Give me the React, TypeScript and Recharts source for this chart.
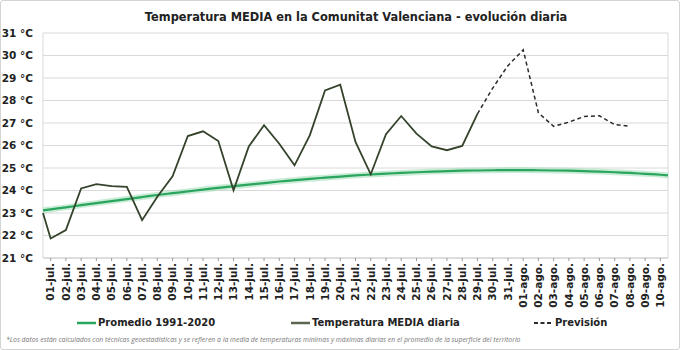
import { ComposedChart, Line, XAxis, YAxis, CartesianGrid } from 'recharts'

// labels of the 41 days shown on the x axis
const days = [
  '01-jul.', '02-jul.', '03-jul.', '04-jul.', '05-jul.', '06-jul.', '07-jul.', '08-jul.', '09-jul.', '10-jul.',
  '11-jul.', '12-jul.', '13-jul.', '14-jul.', '15-jul.', '16-jul.', '17-jul.', '18-jul.', '19-jul.', '20-jul.',
  '21-jul.', '22-jul.', '23-jul.', '24-jul.', '25-jul.', '26-jul.', '27-jul.', '28-jul.', '29-jul.', '30-jul.',
  '31-jul.', '01-ago.', '02-ago.', '03-ago.', '04-ago.', '05-ago.', '06-ago.', '07-ago.', '08-ago.', '09-ago.',
  '10-ago.',
]

// 1991-2020 mean, one value per day
const promedio = [
  23.16, 23.25, 23.35, 23.44, 23.53, 23.62, 23.71, 23.8, 23.88, 23.96,
  24.04, 24.12, 24.19, 24.26, 24.33, 24.4, 24.46, 24.52, 24.57, 24.62,
  24.67, 24.71, 24.75, 24.78, 24.81, 24.84, 24.86, 24.88, 24.89, 24.9,
  24.91, 24.91, 24.9, 24.89, 24.88, 24.86, 24.84, 24.81, 24.78, 24.74,
  24.7,
]
// values where the mean line meets the left and right edge of the plot
const promedioEdges = [23.12, 24.67]

// observed daily mean, 01-jul .. 29-jul
const observada = [
  21.87, 22.24, 24.09, 24.28, 24.19, 24.16, 22.68, 23.72, 24.63, 26.42,
  26.63, 26.2, 24.01, 25.96, 26.9, 26.08, 25.12, 26.45, 28.45, 28.7,
  26.16, 24.72, 26.5, 27.31, 26.53, 25.96, 25.79, 25.98, 27.41,
]
// the observed line enters the plot from 30-jun at this value
const observadaEdge = 23.0

// forecast, 29-jul .. 08-ago
const prevision = [27.41, 28.55, 29.55, 30.25, 27.45, 26.85, 27.04, 27.29, 27.32, 26.93, 26.86]
const previsionStart = 28

const yTicks = [21, 22, 23, 24, 25, 26, 27, 28, 29, 30, 31]

const C_PROM = '#2aa55e'
const C_HALO = '#a6e0bb'
const C_OBS = '#34432b'
const C_PREV = '#2b2b2b'
const FONT = 'DejaVu Sans, Verdana, sans-serif'

const rows: any[] = [{ x: 0, prom: promedioEdges[0], obs: observadaEdge }]
days.forEach((d, i) => {
  const row: any = { x: i + 0.5, label: d, prom: promedio[i] }
  if (i < observada.length) row.obs = observada[i]
  if (i >= previsionStart && i - previsionStart < prevision.length) row.prev = prevision[i - previsionStart]
  rows.push(row)
})
rows.push({ x: days.length, prom: promedioEdges[1] })

const labelTicks = days.map((_, i) => i + 0.5)
const gridTicks = [0, ...days.map((_, i) => i + 1)]

const DayTick = ({ x, y, payload }: any) => {
  const label = days[Math.floor(payload.value)]
  return (
    <text
      x={x}
      y={y}
      dy="0.36em"
      transform={`rotate(-90 ${x} ${y})`}
      textAnchor="end"
      fontFamily={FONT}
      fontWeight="bold"
      fontSize={10.5}
      fill="#222"
    >
      {label}
    </text>
  )
}

const LegendItem = ({ left, color, dashed, text }: any) => (
  <div style={{ position: 'absolute', left, top: 0, display: 'flex', alignItems: 'center' }}>
    <svg width={19} height={4} style={{ marginRight: 2 }}>
      <line x1={0} y1={2} x2={19} y2={2} stroke={color} strokeWidth={dashed ? 2 : 2.5} strokeDasharray={dashed ? '4 2.5' : undefined} />
    </svg>
    <span>{text}</span>
  </div>
)

export default function App() {
  return (
    <div
      style={{
        position: 'absolute',
        left: 0,
        top: 0,
        width: 680,
        height: 350,
        background: '#fff',
        fontFamily: FONT,
        boxSizing: 'border-box',
        border: '1px solid #d4d4d4',
        borderRadius: 3,
        overflow: 'hidden',
      }}
    >
      <div
        style={{
          position: 'absolute',
          left: 30,
          width: 650,
          top: 9,
          textAlign: 'center',
          fontWeight: 'bold',
          fontSize: 11.4,
          color: '#222',
        }}
      >
        Temperatura MEDIA en la Comunitat Valenciana - evolución diaria
      </div>

      <div style={{ position: 'absolute', left: -1, top: -1 }}>
        <ComposedChart width={680} height={350} data={rows} margin={{ top: 33, right: 12, left: 0, bottom: 44 }}>
          <XAxis
            dataKey="x"
            type="number"
            domain={[0, days.length]}
            ticks={labelTicks}
            interval={0}
            tick={<DayTick />}
            tickSize={3}
            tickMargin={2}
            tickLine={{ stroke: '#999' }}
            axisLine={{ stroke: '#cfcfcf' }}
            height={48}
            allowDecimals
          />
          <XAxis
            xAxisId="grid"
            dataKey="x"
            type="number"
            domain={[0, days.length]}
            ticks={gridTicks}
            interval={0}
            tick={false}
            tickLine={false}
            axisLine={false}
            height={0}
          />
          <YAxis
            type="number"
            domain={[21, 31]}
            ticks={yTicks}
            interval={0}
            width={43}
            tickLine={false}
            axisLine={false}
            tickMargin={4}
            tickFormatter={(v: number) => `${v} °C`}
            tick={{ fontFamily: FONT, fontWeight: 'bold', fontSize: 10.5, fill: '#222' }}
          />
          <CartesianGrid xAxisId="grid" stroke="#d9d9d9" strokeWidth={1} />
          <Line dataKey="prom" type="monotone" stroke={C_HALO} strokeWidth={6} strokeOpacity={0.6} dot={false} activeDot={false} isAnimationActive={false} legendType="none" />
          <Line dataKey="prom" type="monotone" stroke={C_PROM} strokeWidth={2.2} dot={false} activeDot={false} isAnimationActive={false} />
          <Line dataKey="obs" type="linear" stroke={C_OBS} strokeWidth={1.8} dot={false} activeDot={false} isAnimationActive={false} />
          <Line dataKey="prev" type="linear" stroke={C_PREV} strokeWidth={1.5} strokeDasharray="4 3" dot={false} activeDot={false} isAnimationActive={false} />
        </ComposedChart>
      </div>

      <div style={{ position: 'absolute', left: 0, top: 316, width: 680, height: 16, fontWeight: 'bold', fontSize: 10, color: '#222' }}>
        <LegendItem left={76} color={C_PROM} text="Promedio 1991-2020" />
        <LegendItem left={290} color={'#5a6650'} text="Temperatura MEDIA diaria" />
        <LegendItem left={533} color={C_PREV} dashed text="Previsión" />
      </div>

      <div
        style={{
          position: 'absolute',
          left: 5,
          top: 334,
          fontFamily: 'Open Sans, sans-serif',
          fontStyle: 'italic',
          fontSize: 6.85,
          color: '#777',
          whiteSpace: 'nowrap',
        }}
      >
        *Los datos están calculados con técnicas geoestadísticas y se refieren a la media de temperaturas mínimas y máximas diarias en el promedio de la superficie del territorio
      </div>
    </div>
  )
}
